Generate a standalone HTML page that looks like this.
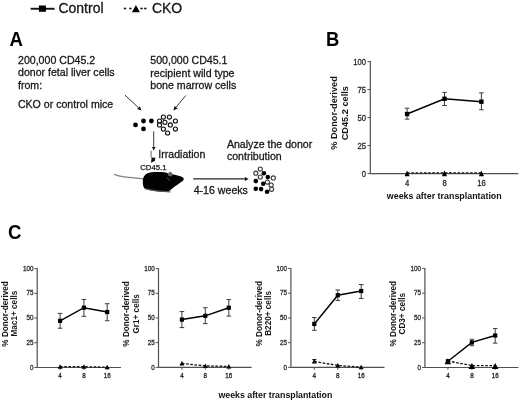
<!DOCTYPE html>
<html><head><meta charset="utf-8"><style>
html,body{margin:0;padding:0;background:#fff;width:520px;height:401px;overflow:hidden}
svg{display:block;filter:blur(0.35px)}
text{font-family:"Liberation Sans", sans-serif;}
</style></head><body>
<svg width="520" height="401" viewBox="0 0 520 401">
<rect width="520" height="401" fill="#fff"/>
<line x1="30.6" y1="8.75" x2="54.6" y2="8.75" stroke="#111" stroke-width="1.9"/>
<rect x="38.9" y="5.5" width="7" height="6.3" fill="#000"/>
<text x="58.4" y="12.7" font-size="14" font-weight="400" fill="#161616" text-anchor="start" stroke="#161616" stroke-width="0.3" >Control</text>
<line x1="123.85" y1="8.5" x2="126.15" y2="8.5" stroke="#111" stroke-width="1.6"/>
<line x1="129.25" y1="8.5" x2="131.55" y2="8.5" stroke="#111" stroke-width="1.6"/>
<line x1="140.45" y1="8.5" x2="142.75" y2="8.5" stroke="#111" stroke-width="1.6"/>
<line x1="144.15" y1="8.5" x2="146.45000000000002" y2="8.5" stroke="#111" stroke-width="1.6"/>
<polygon points="135.9,5 139.9,12.3 131.9,12.3" fill="#000"/>
<text x="151.9" y="12.7" font-size="14" font-weight="400" fill="#161616" text-anchor="start" stroke="#161616" stroke-width="0.3" >CKO</text>
<text transform="translate(9.6,45.9) scale(0.98,1.05)" font-size="19" font-weight="700" fill="#000" text-anchor="start" >A</text>
<text transform="translate(326.0,45.9) scale(0.97,1.04)" font-size="19" font-weight="700" fill="#000" text-anchor="start" >B</text>
<text transform="translate(8.1,238.9) scale(0.98,1.08)" font-size="19" font-weight="700" fill="#000" text-anchor="start" >C</text>
<text x="18.0" y="64.0" font-size="10.6" font-weight="400" fill="#161616" text-anchor="start" stroke="#161616" stroke-width="0.28" >200,000 CD45.2</text>
<text x="18.0" y="76.3" font-size="10.6" font-weight="400" fill="#161616" text-anchor="start" stroke="#161616" stroke-width="0.28" >donor fetal liver cells</text>
<text x="18.0" y="88.7" font-size="10.6" font-weight="400" fill="#161616" text-anchor="start" stroke="#161616" stroke-width="0.28" >from:</text>
<text x="17.9" y="107.8" font-size="10.6" font-weight="400" fill="#161616" text-anchor="start" stroke="#161616" stroke-width="0.28" >CKO or control mice</text>
<text x="150.3" y="64.4" font-size="10.6" font-weight="400" fill="#161616" text-anchor="start" stroke="#161616" stroke-width="0.28" >500,000 CD45.1</text>
<text x="150.3" y="76.7" font-size="10.6" font-weight="400" fill="#161616" text-anchor="start" stroke="#161616" stroke-width="0.28" >recipient wild type</text>
<text x="150.3" y="89.0" font-size="10.6" font-weight="400" fill="#161616" text-anchor="start" stroke="#161616" stroke-width="0.28" >bone marrow cells</text>
<text x="158.3" y="157.6" font-size="10.6" font-weight="400" fill="#161616" text-anchor="start" stroke="#161616" stroke-width="0.28" >Irradiation</text>
<text x="226.9" y="148.1" font-size="10.6" font-weight="400" fill="#161616" text-anchor="start" stroke="#161616" stroke-width="0.28" >Analyze the donor</text>
<text x="226.9" y="160.4" font-size="10.6" font-weight="400" fill="#161616" text-anchor="start" stroke="#161616" stroke-width="0.28" >contribution</text>
<text x="193.7" y="193.9" font-size="10.6" font-weight="400" fill="#161616" text-anchor="start" stroke="#161616" stroke-width="0.28" >4-16 weeks</text>
<text x="140.2" y="170.4" font-size="7.8" font-weight="400" fill="#161616" text-anchor="start" stroke="#161616" stroke-width="0.25" >CD45.1</text>
<line x1="124.9" y1="95.0" x2="138.43" y2="107.63" stroke="#3a3a3a" stroke-width="1.0"/>
<polygon points="141.5,110.5 137.07,109.10 139.80,106.17" fill="#111"/>
<line x1="185.8" y1="95.5" x2="176.08" y2="107.26" stroke="#3a3a3a" stroke-width="1.0"/>
<polygon points="173.4,110.5 174.53,105.99 177.62,108.54" fill="#111"/>
<line x1="153.7" y1="131.4" x2="153.70" y2="147.00" stroke="#3a3a3a" stroke-width="1.0"/>
<polygon points="153.7,150.6 151.90,147.00 155.50,147.00" fill="#111"/>
<line x1="193.3" y1="178.9" x2="244.80" y2="178.90" stroke="#222" stroke-width="1.3"/>
<polygon points="248.6,178.9 244.80,180.90 244.80,176.90" fill="#111"/>
<line x1="151.1" y1="150.8" x2="151.1" y2="157.6" stroke="#666" stroke-width="1"/>
<polygon points="151.6,157.4 155.4,157.8 154.8,161.0 151.0,162.8" fill="#111"/>
<circle cx="135.5" cy="124.9" r="2.4" fill="#000"/>
<circle cx="143.5" cy="121.0" r="2.4" fill="#000"/>
<circle cx="151.4" cy="121.0" r="2.4" fill="#000"/>
<circle cx="143.5" cy="128.9" r="2.4" fill="#000"/>
<circle cx="163.4" cy="117.1" r="2.05" fill="#fff" stroke="#111" stroke-width="1.1"/>
<circle cx="169.4" cy="117.1" r="2.05" fill="#fff" stroke="#111" stroke-width="1.1"/>
<circle cx="159.5" cy="121.0" r="2.05" fill="#fff" stroke="#111" stroke-width="1.1"/>
<circle cx="164.9" cy="122.3" r="2.05" fill="#fff" stroke="#111" stroke-width="1.1"/>
<circle cx="175.4" cy="121.0" r="2.05" fill="#fff" stroke="#111" stroke-width="1.1"/>
<circle cx="159.5" cy="124.9" r="2.05" fill="#fff" stroke="#111" stroke-width="1.1"/>
<circle cx="170.3" cy="124.9" r="2.05" fill="#fff" stroke="#111" stroke-width="1.1"/>
<circle cx="163.4" cy="129.1" r="2.05" fill="#fff" stroke="#111" stroke-width="1.1"/>
<circle cx="175.4" cy="129.1" r="2.05" fill="#fff" stroke="#111" stroke-width="1.1"/>
<circle cx="167.6" cy="133.0" r="2.05" fill="#fff" stroke="#111" stroke-width="1.1"/>
<circle cx="260.3" cy="169.1" r="2.05" fill="#fff" stroke="#3a3a3a" stroke-width="1.1"/>
<circle cx="255.8" cy="173.2" r="2.05" fill="#fff" stroke="#3a3a3a" stroke-width="1.1"/>
<circle cx="260.3" cy="177.0" r="2.05" fill="#fff" stroke="#3a3a3a" stroke-width="1.1"/>
<circle cx="273.3" cy="177.9" r="2.05" fill="#fff" stroke="#3a3a3a" stroke-width="1.1"/>
<circle cx="267.4" cy="182.1" r="2.05" fill="#fff" stroke="#3a3a3a" stroke-width="1.1"/>
<circle cx="271.2" cy="185.0" r="2.05" fill="#fff" stroke="#3a3a3a" stroke-width="1.1"/>
<circle cx="271.6" cy="189.3" r="2.05" fill="#fff" stroke="#3a3a3a" stroke-width="1.1"/>
<circle cx="263.9" cy="173.2" r="2.3" fill="#000"/>
<circle cx="267.8" cy="177.1" r="2.3" fill="#000"/>
<circle cx="255.8" cy="181.1" r="2.3" fill="#000"/>
<circle cx="263.2" cy="183.7" r="2.3" fill="#000"/>
<circle cx="255.8" cy="188.8" r="2.3" fill="#000"/>
<circle cx="261.1" cy="189.1" r="2.3" fill="#000"/>
<circle cx="267.1" cy="191.8" r="2.3" fill="#000"/>
<path d="M114.2,174.4 Q118.5,176.2 124,176.9 Q134,178 144,178.9" fill="none" stroke="#808080" stroke-width="1.3"/>
<path d="M142.8,181 C142.8,177.5 144.5,174.8 147.5,173.3 C150,172 156,171.6 162,172.1 C165,172.4 167,172.8 168.5,173.4 C171,173.9 176,175 179.5,176 C181.5,176.6 183.3,177.5 183.7,178.6 C184,179.8 183.2,180.8 182,181.6 C180,183 177.5,184.6 175.5,186 C173.5,187.4 171.5,189 170.3,190.2 L168.5,191.3 C165,191.8 160,191.8 155,191 C150,190.2 146,189.3 144.3,188.2 C143,186.5 142.8,184 142.8,181 Z" fill="#030303"/>
<path d="M144.8,188.6 C152,190.4 160,191.5 170.5,191.8" fill="none" stroke="#555" stroke-width="1.3"/>
<circle cx="170.2" cy="174" r="2" fill="#5a5a5a" stroke="#999" stroke-width="0.6"/>
<line x1="167" y1="177.4" x2="169.8" y2="180.6" stroke="#3a3a3a" stroke-width="1.2"/>
<line x1="370.3" y1="61.1" x2="370.3" y2="173.6" stroke="#505050" stroke-width="1.2"/>
<line x1="370.3" y1="173.6" x2="518.4" y2="173.6" stroke="#505050" stroke-width="1.2"/>
<line x1="367.5" y1="173.60" x2="370.3" y2="173.60" stroke="#505050" stroke-width="1"/>
<text transform="translate(366.0,176.5) scale(0.92,1)" font-size="8.3" font-weight="400" fill="#2a2a2a" text-anchor="end" stroke="#2a2a2a" stroke-width="0.3" >0</text>
<line x1="367.5" y1="145.60" x2="370.3" y2="145.60" stroke="#505050" stroke-width="1"/>
<text transform="translate(366.0,148.5) scale(0.92,1)" font-size="8.3" font-weight="400" fill="#2a2a2a" text-anchor="end" stroke="#2a2a2a" stroke-width="0.3" >25</text>
<line x1="367.5" y1="117.60" x2="370.3" y2="117.60" stroke="#505050" stroke-width="1"/>
<text transform="translate(366.0,120.5) scale(0.92,1)" font-size="8.3" font-weight="400" fill="#2a2a2a" text-anchor="end" stroke="#2a2a2a" stroke-width="0.3" >50</text>
<line x1="367.5" y1="89.60" x2="370.3" y2="89.60" stroke="#505050" stroke-width="1"/>
<text transform="translate(366.0,92.5) scale(0.92,1)" font-size="8.3" font-weight="400" fill="#2a2a2a" text-anchor="end" stroke="#2a2a2a" stroke-width="0.3" >75</text>
<line x1="367.5" y1="61.60" x2="370.3" y2="61.60" stroke="#505050" stroke-width="1"/>
<text transform="translate(366.0,64.5) scale(0.92,1)" font-size="8.3" font-weight="400" fill="#2a2a2a" text-anchor="end" stroke="#2a2a2a" stroke-width="0.3" >100</text>
<line x1="407.1" y1="173.6" x2="407.1" y2="175.9" stroke="#505050" stroke-width="1"/>
<text transform="translate(407.1,185.6) scale(0.92,1)" font-size="8.3" font-weight="400" fill="#2a2a2a" text-anchor="middle" stroke="#2a2a2a" stroke-width="0.3" >4</text>
<line x1="444.5" y1="173.6" x2="444.5" y2="175.9" stroke="#505050" stroke-width="1"/>
<text transform="translate(444.5,185.6) scale(0.92,1)" font-size="8.3" font-weight="400" fill="#2a2a2a" text-anchor="middle" stroke="#2a2a2a" stroke-width="0.3" >8</text>
<line x1="481.4" y1="173.6" x2="481.4" y2="175.9" stroke="#505050" stroke-width="1"/>
<text transform="translate(481.4,185.6) scale(0.92,1)" font-size="8.3" font-weight="400" fill="#2a2a2a" text-anchor="middle" stroke="#2a2a2a" stroke-width="0.3" >16</text>
<polyline points="407.1,172.90 444.5,172.90 481.4,172.90" fill="none" stroke="#111" stroke-width="1.3" stroke-dasharray="2.6,1.6"/>
<polyline points="407.1,114.02 444.5,98.78 481.4,101.70" fill="none" stroke="#000" stroke-width="1.45"/>
<line x1="407.1" y1="108.19" x2="407.1" y2="119.17" stroke="#3c3c3c" stroke-width="1"/>
<line x1="404.8" y1="108.19" x2="409.40000000000003" y2="108.19" stroke="#3c3c3c" stroke-width="1"/>
<line x1="404.8" y1="119.17" x2="409.40000000000003" y2="119.17" stroke="#3c3c3c" stroke-width="1"/>
<rect x="404.90000000000003" y="111.82" width="4.4" height="4.4" fill="#000"/>
<line x1="444.5" y1="92.40" x2="444.5" y2="105.50" stroke="#3c3c3c" stroke-width="1"/>
<line x1="442.2" y1="92.40" x2="446.8" y2="92.40" stroke="#3c3c3c" stroke-width="1"/>
<line x1="442.2" y1="105.50" x2="446.8" y2="105.50" stroke="#3c3c3c" stroke-width="1"/>
<rect x="442.3" y="96.58" width="4.4" height="4.4" fill="#000"/>
<line x1="481.4" y1="92.85" x2="481.4" y2="109.76" stroke="#3c3c3c" stroke-width="1"/>
<line x1="479.09999999999997" y1="92.85" x2="483.7" y2="92.85" stroke="#3c3c3c" stroke-width="1"/>
<line x1="479.09999999999997" y1="109.76" x2="483.7" y2="109.76" stroke="#3c3c3c" stroke-width="1"/>
<rect x="479.2" y="99.50" width="4.4" height="4.4" fill="#000"/>
<polygon points="407.1,170.41 409.70000000000005,176.21 404.5,176.21" fill="#000"/>
<polygon points="444.5,170.41 447.1,176.21 441.9,176.21" fill="#000"/>
<polygon points="481.4,170.41 484.0,176.21 478.79999999999995,176.21" fill="#000"/>
<text x="386.8" y="198.8" font-size="8.9" font-weight="700" fill="#111" text-anchor="start" >weeks after transplantation</text>
<text transform="translate(337.4,113.0) rotate(-90)" x="0" y="0" font-size="9.2" font-weight="700" fill="#161616" stroke="#161616" stroke-width="0" text-anchor="middle">% Donor-derived</text>
<text transform="translate(347.5,113.2) rotate(-90)" x="0" y="0" font-size="9.2" font-weight="700" fill="#161616" stroke="#161616" stroke-width="0" text-anchor="middle">CD45.2 cells</text>
<line x1="37.2" y1="268.1" x2="37.2" y2="367.5" stroke="#505050" stroke-width="1.2"/>
<line x1="37.2" y1="367.5" x2="121.0" y2="367.5" stroke="#505050" stroke-width="1.2"/>
<line x1="34.400000000000006" y1="367.50" x2="37.2" y2="367.50" stroke="#505050" stroke-width="1"/>
<text transform="translate(33.4,369.6) scale(0.9,1)" font-size="7.0" font-weight="400" fill="#2a2a2a" text-anchor="end" stroke="#2a2a2a" stroke-width="0.3" >0</text>
<line x1="34.400000000000006" y1="342.77" x2="37.2" y2="342.77" stroke="#505050" stroke-width="1"/>
<text transform="translate(33.4,344.88) scale(0.9,1)" font-size="7.0" font-weight="400" fill="#2a2a2a" text-anchor="end" stroke="#2a2a2a" stroke-width="0.3" >25</text>
<line x1="34.400000000000006" y1="318.05" x2="37.2" y2="318.05" stroke="#505050" stroke-width="1"/>
<text transform="translate(33.4,320.15) scale(0.9,1)" font-size="7.0" font-weight="400" fill="#2a2a2a" text-anchor="end" stroke="#2a2a2a" stroke-width="0.3" >50</text>
<line x1="34.400000000000006" y1="293.33" x2="37.2" y2="293.33" stroke="#505050" stroke-width="1"/>
<text transform="translate(33.4,295.43) scale(0.9,1)" font-size="7.0" font-weight="400" fill="#2a2a2a" text-anchor="end" stroke="#2a2a2a" stroke-width="0.3" >75</text>
<line x1="34.400000000000006" y1="268.60" x2="37.2" y2="268.60" stroke="#505050" stroke-width="1"/>
<text transform="translate(33.4,270.7) scale(0.9,1)" font-size="7.0" font-weight="400" fill="#2a2a2a" text-anchor="end" stroke="#2a2a2a" stroke-width="0.3" >100</text>
<line x1="60.1" y1="367.5" x2="60.1" y2="369.8" stroke="#505050" stroke-width="1"/>
<text transform="translate(60.1,377.9) scale(0.9,1)" font-size="7.0" font-weight="400" fill="#2a2a2a" text-anchor="middle" stroke="#2a2a2a" stroke-width="0.3" >4</text>
<line x1="83.9" y1="367.5" x2="83.9" y2="369.8" stroke="#505050" stroke-width="1"/>
<text transform="translate(83.9,377.9) scale(0.9,1)" font-size="7.0" font-weight="400" fill="#2a2a2a" text-anchor="middle" stroke="#2a2a2a" stroke-width="0.3" >8</text>
<line x1="107.2" y1="367.5" x2="107.2" y2="369.8" stroke="#505050" stroke-width="1"/>
<text transform="translate(107.2,377.9) scale(0.9,1)" font-size="7.0" font-weight="400" fill="#2a2a2a" text-anchor="middle" stroke="#2a2a2a" stroke-width="0.3" >16</text>
<polyline points="60.1,366.71 83.9,366.71 107.2,367.20" fill="none" stroke="#111" stroke-width="1.3" stroke-dasharray="2.6,1.6"/>
<polyline points="60.1,320.82 83.9,307.67 107.2,312.02" fill="none" stroke="#000" stroke-width="1.45"/>
<line x1="60.1" y1="313.40" x2="60.1" y2="328.24" stroke="#3c3c3c" stroke-width="1"/>
<line x1="57.800000000000004" y1="313.40" x2="62.4" y2="313.40" stroke="#3c3c3c" stroke-width="1"/>
<line x1="57.800000000000004" y1="328.24" x2="62.4" y2="328.24" stroke="#3c3c3c" stroke-width="1"/>
<rect x="58.0" y="318.72" width="4.2" height="4.2" fill="#000"/>
<line x1="83.9" y1="299.46" x2="83.9" y2="316.27" stroke="#3c3c3c" stroke-width="1"/>
<line x1="81.60000000000001" y1="299.46" x2="86.2" y2="299.46" stroke="#3c3c3c" stroke-width="1"/>
<line x1="81.60000000000001" y1="316.27" x2="86.2" y2="316.27" stroke="#3c3c3c" stroke-width="1"/>
<rect x="81.80000000000001" y="305.57" width="4.2" height="4.2" fill="#000"/>
<line x1="107.2" y1="303.71" x2="107.2" y2="320.72" stroke="#3c3c3c" stroke-width="1"/>
<line x1="104.9" y1="303.71" x2="109.5" y2="303.71" stroke="#3c3c3c" stroke-width="1"/>
<line x1="104.9" y1="320.72" x2="109.5" y2="320.72" stroke="#3c3c3c" stroke-width="1"/>
<rect x="105.10000000000001" y="309.92" width="4.2" height="4.2" fill="#000"/>
<polygon points="60.1,364.18 62.6,368.78 57.6,368.78" fill="#000"/>
<polygon points="83.9,364.18 86.4,368.78 81.4,368.78" fill="#000"/>
<polygon points="107.2,364.67 109.7,369.27 104.7,369.27" fill="#000"/>
<line x1="158.5" y1="268.1" x2="158.5" y2="367.4" stroke="#505050" stroke-width="1.2"/>
<line x1="158.5" y1="367.4" x2="251.6" y2="367.4" stroke="#505050" stroke-width="1.2"/>
<line x1="155.7" y1="367.40" x2="158.5" y2="367.40" stroke="#505050" stroke-width="1"/>
<text transform="translate(154.7,369.5) scale(0.9,1)" font-size="7.0" font-weight="400" fill="#2a2a2a" text-anchor="end" stroke="#2a2a2a" stroke-width="0.3" >0</text>
<line x1="155.7" y1="342.70" x2="158.5" y2="342.70" stroke="#505050" stroke-width="1"/>
<text transform="translate(154.7,344.8) scale(0.9,1)" font-size="7.0" font-weight="400" fill="#2a2a2a" text-anchor="end" stroke="#2a2a2a" stroke-width="0.3" >25</text>
<line x1="155.7" y1="318.00" x2="158.5" y2="318.00" stroke="#505050" stroke-width="1"/>
<text transform="translate(154.7,320.1) scale(0.9,1)" font-size="7.0" font-weight="400" fill="#2a2a2a" text-anchor="end" stroke="#2a2a2a" stroke-width="0.3" >50</text>
<line x1="155.7" y1="293.30" x2="158.5" y2="293.30" stroke="#505050" stroke-width="1"/>
<text transform="translate(154.7,295.4) scale(0.9,1)" font-size="7.0" font-weight="400" fill="#2a2a2a" text-anchor="end" stroke="#2a2a2a" stroke-width="0.3" >75</text>
<line x1="155.7" y1="268.60" x2="158.5" y2="268.60" stroke="#505050" stroke-width="1"/>
<text transform="translate(154.7,270.7) scale(0.9,1)" font-size="7.0" font-weight="400" fill="#2a2a2a" text-anchor="end" stroke="#2a2a2a" stroke-width="0.3" >100</text>
<line x1="181.9" y1="367.4" x2="181.9" y2="369.7" stroke="#505050" stroke-width="1"/>
<text transform="translate(181.9,377.9) scale(0.9,1)" font-size="7.0" font-weight="400" fill="#2a2a2a" text-anchor="middle" stroke="#2a2a2a" stroke-width="0.3" >4</text>
<line x1="205.3" y1="367.4" x2="205.3" y2="369.7" stroke="#505050" stroke-width="1"/>
<text transform="translate(205.3,377.9) scale(0.9,1)" font-size="7.0" font-weight="400" fill="#2a2a2a" text-anchor="middle" stroke="#2a2a2a" stroke-width="0.3" >8</text>
<line x1="228.8" y1="367.4" x2="228.8" y2="369.7" stroke="#505050" stroke-width="1"/>
<text transform="translate(228.8,377.9) scale(0.9,1)" font-size="7.0" font-weight="400" fill="#2a2a2a" text-anchor="middle" stroke="#2a2a2a" stroke-width="0.3" >16</text>
<polyline points="181.9,363.45 205.3,365.92 228.8,366.41" fill="none" stroke="#111" stroke-width="1.3" stroke-dasharray="2.6,1.6"/>
<polyline points="181.9,319.58 205.3,315.83 228.8,307.72" fill="none" stroke="#000" stroke-width="1.45"/>
<line x1="181.9" y1="311.58" x2="181.9" y2="327.58" stroke="#3c3c3c" stroke-width="1"/>
<line x1="179.6" y1="311.58" x2="184.20000000000002" y2="311.58" stroke="#3c3c3c" stroke-width="1"/>
<line x1="179.6" y1="327.58" x2="184.20000000000002" y2="327.58" stroke="#3c3c3c" stroke-width="1"/>
<rect x="179.8" y="317.48" width="4.2" height="4.2" fill="#000"/>
<line x1="205.3" y1="307.72" x2="205.3" y2="323.63" stroke="#3c3c3c" stroke-width="1"/>
<line x1="203.0" y1="307.72" x2="207.60000000000002" y2="307.72" stroke="#3c3c3c" stroke-width="1"/>
<line x1="203.0" y1="323.63" x2="207.60000000000002" y2="323.63" stroke="#3c3c3c" stroke-width="1"/>
<rect x="203.20000000000002" y="313.73" width="4.2" height="4.2" fill="#000"/>
<line x1="228.8" y1="299.62" x2="228.8" y2="316.12" stroke="#3c3c3c" stroke-width="1"/>
<line x1="226.5" y1="299.62" x2="231.10000000000002" y2="299.62" stroke="#3c3c3c" stroke-width="1"/>
<line x1="226.5" y1="316.12" x2="231.10000000000002" y2="316.12" stroke="#3c3c3c" stroke-width="1"/>
<rect x="226.70000000000002" y="305.62" width="4.2" height="4.2" fill="#000"/>
<polygon points="181.9,360.92 184.4,365.52 179.4,365.52" fill="#000"/>
<polygon points="205.3,363.39 207.8,367.99 202.8,367.99" fill="#000"/>
<polygon points="228.8,363.88 231.3,368.48 226.3,368.48" fill="#000"/>
<line x1="290.9" y1="268.0" x2="290.9" y2="367.4" stroke="#505050" stroke-width="1.2"/>
<line x1="290.9" y1="367.4" x2="384.5" y2="367.4" stroke="#505050" stroke-width="1.2"/>
<line x1="288.09999999999997" y1="367.40" x2="290.9" y2="367.40" stroke="#505050" stroke-width="1"/>
<text transform="translate(287.1,369.5) scale(0.9,1)" font-size="7.0" font-weight="400" fill="#2a2a2a" text-anchor="end" stroke="#2a2a2a" stroke-width="0.3" >0</text>
<line x1="288.09999999999997" y1="342.67" x2="290.9" y2="342.67" stroke="#505050" stroke-width="1"/>
<text transform="translate(287.1,344.77) scale(0.9,1)" font-size="7.0" font-weight="400" fill="#2a2a2a" text-anchor="end" stroke="#2a2a2a" stroke-width="0.3" >25</text>
<line x1="288.09999999999997" y1="317.95" x2="290.9" y2="317.95" stroke="#505050" stroke-width="1"/>
<text transform="translate(287.1,320.05) scale(0.9,1)" font-size="7.0" font-weight="400" fill="#2a2a2a" text-anchor="end" stroke="#2a2a2a" stroke-width="0.3" >50</text>
<line x1="288.09999999999997" y1="293.23" x2="290.9" y2="293.23" stroke="#505050" stroke-width="1"/>
<text transform="translate(287.1,295.33) scale(0.9,1)" font-size="7.0" font-weight="400" fill="#2a2a2a" text-anchor="end" stroke="#2a2a2a" stroke-width="0.3" >75</text>
<line x1="288.09999999999997" y1="268.50" x2="290.9" y2="268.50" stroke="#505050" stroke-width="1"/>
<text transform="translate(287.1,270.6) scale(0.9,1)" font-size="7.0" font-weight="400" fill="#2a2a2a" text-anchor="end" stroke="#2a2a2a" stroke-width="0.3" >100</text>
<line x1="314.3" y1="367.4" x2="314.3" y2="369.7" stroke="#505050" stroke-width="1"/>
<text transform="translate(314.3,377.9) scale(0.9,1)" font-size="7.0" font-weight="400" fill="#2a2a2a" text-anchor="middle" stroke="#2a2a2a" stroke-width="0.3" >4</text>
<line x1="337.8" y1="367.4" x2="337.8" y2="369.7" stroke="#505050" stroke-width="1"/>
<text transform="translate(337.8,377.9) scale(0.9,1)" font-size="7.0" font-weight="400" fill="#2a2a2a" text-anchor="middle" stroke="#2a2a2a" stroke-width="0.3" >8</text>
<line x1="361.2" y1="367.4" x2="361.2" y2="369.7" stroke="#505050" stroke-width="1"/>
<text transform="translate(361.2,377.9) scale(0.9,1)" font-size="7.0" font-weight="400" fill="#2a2a2a" text-anchor="middle" stroke="#2a2a2a" stroke-width="0.3" >16</text>
<polyline points="314.3,361.47 337.8,365.42 361.2,367.20" fill="none" stroke="#111" stroke-width="1.3" stroke-dasharray="2.6,1.6"/>
<polyline points="314.3,323.98 337.8,295.20 361.2,291.05" fill="none" stroke="#000" stroke-width="1.45"/>
<line x1="314.3" y1="317.55" x2="314.3" y2="330.31" stroke="#3c3c3c" stroke-width="1"/>
<line x1="312.0" y1="317.55" x2="316.6" y2="317.55" stroke="#3c3c3c" stroke-width="1"/>
<line x1="312.0" y1="330.31" x2="316.6" y2="330.31" stroke="#3c3c3c" stroke-width="1"/>
<rect x="312.2" y="321.88" width="4.2" height="4.2" fill="#000"/>
<line x1="337.8" y1="289.96" x2="337.8" y2="300.44" stroke="#3c3c3c" stroke-width="1"/>
<line x1="335.5" y1="289.96" x2="340.1" y2="289.96" stroke="#3c3c3c" stroke-width="1"/>
<line x1="335.5" y1="300.44" x2="340.1" y2="300.44" stroke="#3c3c3c" stroke-width="1"/>
<rect x="335.7" y="293.10" width="4.2" height="4.2" fill="#000"/>
<line x1="361.2" y1="284.52" x2="361.2" y2="298.47" stroke="#3c3c3c" stroke-width="1"/>
<line x1="358.9" y1="284.52" x2="363.5" y2="284.52" stroke="#3c3c3c" stroke-width="1"/>
<line x1="358.9" y1="298.47" x2="363.5" y2="298.47" stroke="#3c3c3c" stroke-width="1"/>
<rect x="359.09999999999997" y="288.95" width="4.2" height="4.2" fill="#000"/>
<polygon points="314.3,358.94 316.8,363.54 311.8,363.54" fill="#000"/>
<polygon points="337.8,362.89 340.3,367.49 335.3,367.49" fill="#000"/>
<polygon points="361.2,364.67 363.7,369.27 358.7,369.27" fill="#000"/>
<line x1="424.9" y1="267.9" x2="424.9" y2="367.5" stroke="#505050" stroke-width="1.2"/>
<line x1="424.9" y1="367.5" x2="518.4" y2="367.5" stroke="#505050" stroke-width="1.2"/>
<line x1="422.09999999999997" y1="367.50" x2="424.9" y2="367.50" stroke="#505050" stroke-width="1"/>
<text transform="translate(421.1,369.6) scale(0.9,1)" font-size="7.0" font-weight="400" fill="#2a2a2a" text-anchor="end" stroke="#2a2a2a" stroke-width="0.3" >0</text>
<line x1="422.09999999999997" y1="342.73" x2="424.9" y2="342.73" stroke="#505050" stroke-width="1"/>
<text transform="translate(421.1,344.83) scale(0.9,1)" font-size="7.0" font-weight="400" fill="#2a2a2a" text-anchor="end" stroke="#2a2a2a" stroke-width="0.3" >25</text>
<line x1="422.09999999999997" y1="317.95" x2="424.9" y2="317.95" stroke="#505050" stroke-width="1"/>
<text transform="translate(421.1,320.05) scale(0.9,1)" font-size="7.0" font-weight="400" fill="#2a2a2a" text-anchor="end" stroke="#2a2a2a" stroke-width="0.3" >50</text>
<line x1="422.09999999999997" y1="293.17" x2="424.9" y2="293.17" stroke="#505050" stroke-width="1"/>
<text transform="translate(421.1,295.27) scale(0.9,1)" font-size="7.0" font-weight="400" fill="#2a2a2a" text-anchor="end" stroke="#2a2a2a" stroke-width="0.3" >75</text>
<line x1="422.09999999999997" y1="268.40" x2="424.9" y2="268.40" stroke="#505050" stroke-width="1"/>
<text transform="translate(421.1,270.5) scale(0.9,1)" font-size="7.0" font-weight="400" fill="#2a2a2a" text-anchor="end" stroke="#2a2a2a" stroke-width="0.3" >100</text>
<line x1="447.9" y1="367.5" x2="447.9" y2="369.8" stroke="#505050" stroke-width="1"/>
<text transform="translate(447.9,377.9) scale(0.9,1)" font-size="7.0" font-weight="400" fill="#2a2a2a" text-anchor="middle" stroke="#2a2a2a" stroke-width="0.3" >4</text>
<line x1="471.9" y1="367.5" x2="471.9" y2="369.8" stroke="#505050" stroke-width="1"/>
<text transform="translate(471.9,377.9) scale(0.9,1)" font-size="7.0" font-weight="400" fill="#2a2a2a" text-anchor="middle" stroke="#2a2a2a" stroke-width="0.3" >8</text>
<line x1="495.2" y1="367.5" x2="495.2" y2="369.8" stroke="#505050" stroke-width="1"/>
<text transform="translate(495.2,377.9) scale(0.9,1)" font-size="7.0" font-weight="400" fill="#2a2a2a" text-anchor="middle" stroke="#2a2a2a" stroke-width="0.3" >16</text>
<polyline points="447.9,360.95 471.9,365.61 495.2,365.61" fill="none" stroke="#111" stroke-width="1.3" stroke-dasharray="2.6,1.6"/>
<polyline points="447.9,361.26 471.9,342.43 495.2,335.49" fill="none" stroke="#000" stroke-width="1.45"/>
<rect x="445.79999999999995" y="359.16" width="4.2" height="4.2" fill="#000"/>
<line x1="471.9" y1="339.26" x2="471.9" y2="345.70" stroke="#3c3c3c" stroke-width="1"/>
<line x1="469.59999999999997" y1="339.26" x2="474.2" y2="339.26" stroke="#3c3c3c" stroke-width="1"/>
<line x1="469.59999999999997" y1="345.70" x2="474.2" y2="345.70" stroke="#3c3c3c" stroke-width="1"/>
<rect x="469.79999999999995" y="340.33" width="4.2" height="4.2" fill="#000"/>
<line x1="495.2" y1="328.55" x2="495.2" y2="343.12" stroke="#3c3c3c" stroke-width="1"/>
<line x1="492.9" y1="328.55" x2="497.5" y2="328.55" stroke="#3c3c3c" stroke-width="1"/>
<line x1="492.9" y1="343.12" x2="497.5" y2="343.12" stroke="#3c3c3c" stroke-width="1"/>
<rect x="493.09999999999997" y="333.39" width="4.2" height="4.2" fill="#000"/>
<polygon points="447.9,358.25 451.2,364.25 444.59999999999997,364.25" fill="#000"/>
<polygon points="471.9,362.91 475.2,368.91 468.59999999999997,368.91" fill="#000"/>
<polygon points="495.2,362.91 498.5,368.91 491.9,368.91" fill="#000"/>
<line x1="312.3" y1="359.6" x2="316.4" y2="359.6" stroke="#111" stroke-width="1.1"/>
<line x1="314.3" y1="359.6" x2="314.3" y2="362" stroke="#111" stroke-width="1"/>
<text transform="translate(8.3,313.9) rotate(-90)" x="0" y="0" font-size="8.2" font-weight="700" fill="#161616" stroke="#161616" stroke-width="0" text-anchor="middle">% Donor-derived</text>
<text transform="translate(17.0,313.6) rotate(-90)" x="0" y="0" font-size="8.2" font-weight="700" fill="#161616" stroke="#161616" stroke-width="0" text-anchor="middle">Mac1+ cells</text>
<text transform="translate(129.4,313.9) rotate(-90)" x="0" y="0" font-size="8.2" font-weight="700" fill="#161616" stroke="#161616" stroke-width="0" text-anchor="middle">% Donor-derived</text>
<text transform="translate(139.0,313.9) rotate(-90)" x="0" y="0" font-size="8.2" font-weight="700" fill="#161616" stroke="#161616" stroke-width="0" text-anchor="middle">Gr1+ cells</text>
<text transform="translate(262.0,313.7) rotate(-90)" x="0" y="0" font-size="8.2" font-weight="700" fill="#161616" stroke="#161616" stroke-width="0" text-anchor="middle">% Donor-derived</text>
<text transform="translate(271.0,313.4) rotate(-90)" x="0" y="0" font-size="8.2" font-weight="700" fill="#161616" stroke="#161616" stroke-width="0" text-anchor="middle">B220+ cells</text>
<text transform="translate(395.6,313.7) rotate(-90)" x="0" y="0" font-size="8.2" font-weight="700" fill="#161616" stroke="#161616" stroke-width="0" text-anchor="middle">% Donor-derived</text>
<text transform="translate(404.9,313.7) rotate(-90)" x="0" y="0" font-size="8.2" font-weight="700" fill="#161616" stroke="#161616" stroke-width="0" text-anchor="middle">CD3+ cells</text>
<text x="218.4" y="398.0" font-size="8.8" font-weight="700" fill="#111" text-anchor="start" >weeks after transplantation</text>
</svg>
</body></html>
